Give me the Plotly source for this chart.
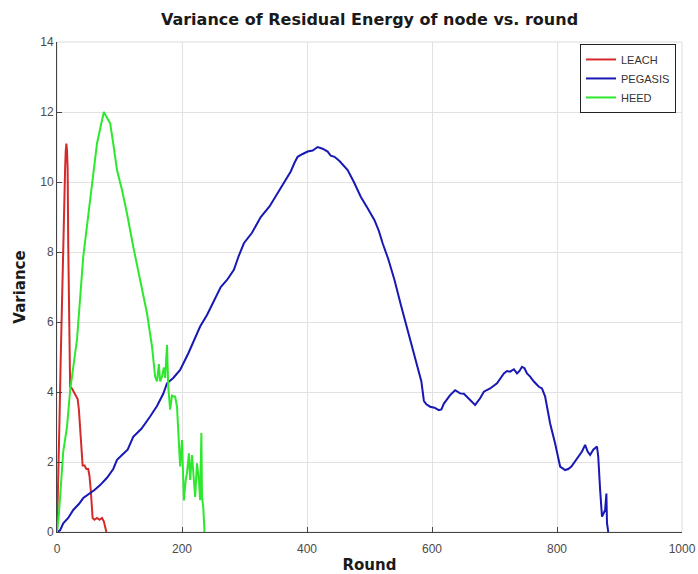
import plotly.graph_objects as go

# ---- data ----
leach_x = [0, 2, 4, 6, 8, 10, 12, 13, 14, 15, 16, 17, 18, 19, 20, 21, 24, 27, 30, 33,
           35, 37, 39, 41, 44, 47, 50, 52, 54, 56, 57, 60, 64, 68, 72, 75, 77, 79]
leach_y = [0, 1.3, 3.2, 5.0, 6.8, 8.3, 9.8, 10.4, 10.9, 11.1, 10.9, 10.4, 8.2, 6.2, 4.8, 4.15, 4.1, 4.0, 3.9, 3.8,
           3.5, 2.9, 2.2, 1.9, 1.9, 1.8, 1.8, 1.6, 1.2, 0.6, 0.4, 0.35, 0.4, 0.35, 0.4, 0.3, 0.15, 0]

pegasis_x = [0, 5, 10, 18, 26, 35, 42, 53, 60, 69,
             80, 90, 96, 104, 113, 122, 135, 149, 160, 170,
             176, 186, 197, 210, 220, 229, 240, 251, 262, 272,
             283, 291, 299, 312, 326, 340, 350, 358, 366, 374,
             380, 385, 393, 401, 409, 417, 425, 433, 438, 444,
             452, 465, 475, 486, 497, 508, 515, 521, 530, 540,
             550, 561, 572, 583, 587, 591, 597, 604, 611, 615,
             619, 629, 637, 645, 651, 656, 661, 669, 677, 683,
             693, 704, 710, 715, 720, 725, 731, 736, 740, 744,
             748, 752, 757, 763, 771, 776, 781, 785, 789, 797,
             805, 813, 818, 823, 828, 834, 840, 845, 849, 853,
             858, 864, 866, 869, 872, 875, 877, 879, 880, 882]
pegasis_y = [0, 0.05, 0.25, 0.4, 0.63, 0.8, 0.97, 1.1, 1.2, 1.34,
             1.55, 1.8, 2.06, 2.2, 2.35, 2.72, 2.95, 3.3, 3.6, 3.95,
             4.25, 4.4, 4.63, 5.1, 5.5, 5.87, 6.2, 6.6, 7.0, 7.2,
             7.49, 7.9, 8.25, 8.55, 9.0, 9.3, 9.6, 9.82, 10.05, 10.3,
             10.55, 10.72, 10.8, 10.87, 10.9, 11.0, 10.95, 10.87, 10.75, 10.72,
             10.6, 10.34, 10.0, 9.58, 9.25, 8.91, 8.6, 8.25, 7.8, 7.2,
             6.5, 5.77, 5.0, 4.3, 3.75, 3.65, 3.58, 3.55, 3.48, 3.5,
             3.67, 3.91, 4.05, 3.96, 3.95, 3.87, 3.77, 3.63, 3.82, 4.01,
             4.1, 4.25, 4.4, 4.53, 4.6, 4.58, 4.65, 4.53, 4.6, 4.72,
             4.68, 4.53, 4.44, 4.3, 4.15, 4.1, 3.87, 3.5, 3.1, 2.53,
             1.87, 1.77, 1.8, 1.87, 2.0, 2.15, 2.3, 2.49, 2.3, 2.2,
             2.35, 2.44, 2.15, 1.2, 0.44, 0.55, 0.63, 1.1, 0.25, 0]

heed_x = [0, 3, 10, 16, 21, 32, 42, 53, 64, 70,
          75, 78, 85, 90, 96, 104, 112, 122, 133, 144,
          152, 157, 160, 163, 165, 168, 171, 173, 176, 178,
          181, 184, 187, 189, 192, 195, 197, 200, 203, 206,
          208, 211, 213, 216, 219, 221, 224, 227, 229, 231,
          232, 234, 236]
heed_y = [0, 0.5, 2.3, 3.0, 4.05, 5.5, 7.87, 9.5, 11.1, 11.6,
          12.0, 11.9, 11.68, 11.1, 10.34, 9.77, 9.1, 8.15, 7.2, 6.25,
          5.3, 4.44, 4.3, 4.8, 4.3, 4.44, 4.7, 4.4, 5.34, 4.15,
          3.5, 3.9, 3.87, 3.87, 3.58, 2.63, 1.87, 2.63, 0.9, 1.5,
          1.68, 2.25, 1.49, 2.2, 1.5, 1.0, 1.96, 1.5, 0.91, 2.83,
          1.0, 0.72, 0]

assert len(leach_x) == len(leach_y)
assert len(pegasis_x) == len(pegasis_y)
assert len(heed_x) == len(heed_y)

x_ticks = [0, 200, 400, 600, 800, 1000]
y_ticks = [0, 2, 4, 6, 8, 10, 12, 14]

FONT = "Liberation Sans, Arial, Helvetica, sans-serif"
BOLD = "DejaVu Sans, Liberation Sans, sans-serif"

W, H = 698, 574

fig = go.Figure()
fig.add_trace(go.Scatter(x=leach_x, y=leach_y, mode="lines", name="LEACH",
                         line=dict(color="#d42a2a", width=2)))
fig.add_trace(go.Scatter(x=pegasis_x, y=pegasis_y, mode="lines", name="PEGASIS",
                         line=dict(color="#1818b4", width=2)))
fig.add_trace(go.Scatter(x=heed_x, y=heed_y, mode="lines", name="HEED",
                         line=dict(color="#2ee82e", width=2)))

fig.add_shape(type="rect", xref="paper", yref="paper", x0=0, x1=1, y0=0, y1=1,
              line=dict(color="#dcdcdc", width=1), layer="below")

fig.update_layout(
    width=W, height=H,
    margin=dict(l=57, r=16, t=42, b=42, autoexpand=False),
    paper_bgcolor="white", plot_bgcolor="white",
    font=dict(family=FONT, color="#404040"),
    title=dict(text="<b>Variance of Residual Energy of node vs. round</b>",
               x=0.5, xref="paper", xanchor="center",
               y=1 - 19 / H, yref="container", yanchor="middle",
               automargin=False,
               font=dict(size=16, color="#1a1a1a", family=BOLD)),
    showlegend=True,
    legend=dict(x=0.9904, y=0.996, xanchor="right", yanchor="top",
                bgcolor="white", bordercolor="#222222", borderwidth=1,
                font=dict(size=11, color="#333333", family=FONT),
                itemwidth=30, tracegroupgap=0),
    xaxis=dict(range=[0, 1000], tickvals=x_ticks, ticktext=[str(v) for v in x_ticks],
               showgrid=True, gridcolor="#e2e2e2", gridwidth=1,
               showline=True, linecolor="#444444", linewidth=1,
               ticks="inside", ticklen=5, tickcolor="#444444",
               tickfont=dict(size=12, color="#4a4a4a"), ticklabelstandoff=6,
               zeroline=False, automargin=False,
               title=dict(text="<b>Round</b>", font=dict(size=15, color="#1a1a1a", family=BOLD), standoff=6)),
    yaxis=dict(range=[0, 14], tickvals=y_ticks, ticktext=[str(v) for v in y_ticks],
               showgrid=True, gridcolor="#e2e2e2", gridwidth=1,
               showline=True, linecolor="#444444", linewidth=1,
               ticks="inside", ticklen=5, tickcolor="#444444",
               tickfont=dict(size=12, color="#4a4a4a"),
               zeroline=False, automargin=False,
               title=dict(text="<b>Variance</b>", font=dict(size=15, color="#1a1a1a", family=BOLD), standoff=10)),
)

fig.write_html("out.html",
               config={"displayModeBar": False},
               post_script="document.body.style.margin='0';document.body.style.overflow='hidden';")
